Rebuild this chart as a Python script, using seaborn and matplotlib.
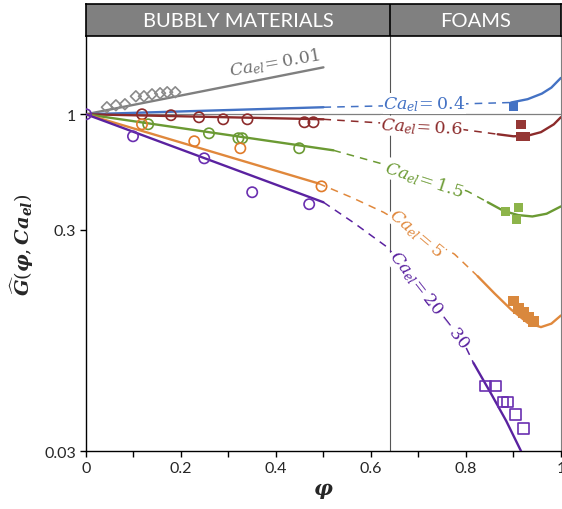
import numpy as np
import pandas as pd
import seaborn as sns
import matplotlib.pyplot as plt

# ---------------- data ----------------
# Ca_el = 0.01 (diamonds + line)
d001_x = [0.044, 0.063, 0.082, 0.105, 0.122, 0.139, 0.156, 0.171, 0.188]
d001_y = [1.076, 1.098, 1.110, 1.206, 1.206, 1.231, 1.245, 1.258, 1.258]
l001_x = [0.0, 0.50]
l001_y = [1.0, 1.63]

# Ca_el = 0.4
l04_x = [0.0, 0.50]
l04_y = [1.0, 1.076]
dash04_x = [0.50, 0.70, 0.895]
dash04_y = [1.076, 1.10, 1.13]
foam04_x = [0.895, 0.93, 0.96, 0.98, 1.0]
foam04_y = [1.13, 1.17, 1.24, 1.32, 1.46]
sq04_x = [0.90]
sq04_y = [1.087]

# Ca_el = 0.6
c06_x = [0.118, 0.179, 0.238, 0.289, 0.340, 0.460, 0.479]
c06_y = [1.0, 0.99, 0.969, 0.949, 0.949, 0.92, 0.92]
l06_x = [0.0, 0.50]
l06_y = [1.0, 0.949]
dash06_x = [0.50, 0.65, 0.79, 0.867]
dash06_y = [0.949, 0.905, 0.855, 0.812]
foam06_x = [0.867, 0.90, 0.93, 0.958, 0.985, 1.0]
foam06_y = [0.812, 0.795, 0.80, 0.83, 0.90, 0.97]
sq06_x = [0.916, 0.916, 0.926]
sq06_y = [0.901, 0.795, 0.795]

# Ca_el = 1.5
c15_x = [0.131, 0.259, 0.321, 0.329, 0.449]
c15_y = [0.901, 0.820, 0.779, 0.779, 0.702]
l15_x = [0.0, 0.521]
l15_y = [1.0, 0.687]
dash15_x = [0.521, 0.627, 0.72, 0.804, 0.846]
dash15_y = [0.687, 0.594, 0.52, 0.448, 0.400]
foam15_x = [0.846, 0.88, 0.91, 0.94, 0.97, 1.0]
foam15_y = [0.400, 0.365, 0.35, 0.345, 0.355, 0.383]
sq15_x = [0.884, 0.911, 0.907]
sq15_y = [0.364, 0.379, 0.335]

# Ca_el = 5
c5_x = [0.118, 0.228, 0.325, 0.496]
c5_y = [0.901, 0.755, 0.702, 0.472]
l5_x = [0.0, 0.489]
l5_y = [1.0, 0.487]
dash5_x = [0.489, 0.56, 0.627, 0.70, 0.776, 0.825]
dash5_y = [0.487, 0.42, 0.360, 0.29, 0.233, 0.185]
foam5_x = [0.825, 0.86, 0.895, 0.93, 0.958, 0.98, 1.0]
foam5_y = [0.185, 0.155, 0.131, 0.114, 0.109, 0.113, 0.123]
sq5_x = [0.901, 0.911, 0.922, 0.932, 0.943]
sq5_y = [0.143, 0.132, 0.127, 0.121, 0.116]

# Ca_el = 20 - 30
c20_x = [0.0, 0.099, 0.249, 0.350, 0.470]
c20_y = [1.0, 0.795, 0.632, 0.444, 0.392]
l20_x = [0.0, 0.50]
l20_y = [1.0, 0.400]
dash20_x = [0.50, 0.563, 0.635, 0.72, 0.795, 0.816]
dash20_y = [0.400, 0.324, 0.250, 0.15, 0.093, 0.075]
foam20_x = [0.816, 0.852, 0.885, 0.916]
foam20_y = [0.075, 0.055, 0.041, 0.030]
sq20_x = [0.842, 0.863, 0.878, 0.888, 0.905, 0.922]
sq20_y = [0.059, 0.059, 0.050, 0.050, 0.044, 0.038]

# label text, position, rotation
labels = ['0.01', '0.4', '0.6', '1.5', '5', '20 - 30']
label_x = [0.398, 0.713, 0.707, 0.711, 0.696, 0.722]
label_y = [1.72, 1.121, 0.873, 0.508, 0.292, 0.145]
label_rot = [10, 0, -3, -18, -40, -52]

grey = '#7f7f7f'
blue = '#4472c4'
red = '#8c2b2b'
green = '#6b9a33'
orange = '#e0883c'
purple = '#5a22a0'
label_col = ['#707070', blue, red, green, orange, purple]

# ---------------- style ----------------
sns.set_theme(style='white')
plt.rcParams['font.family'] = ['Lato', 'DejaVu Sans']
plt.rcParams['mathtext.fontset'] = 'custom'
plt.rcParams['mathtext.rm'] = 'DejaVu Serif'
plt.rcParams['mathtext.it'] = 'DejaVu Serif:italic'
plt.rcParams['mathtext.bf'] = 'DejaVu Serif:italic:bold'

fig = plt.figure(figsize=(5.62, 5.10), dpi=100)
ax = fig.add_axes([0.153, 0.1137, 0.845, 0.813])
hax = fig.add_axes([0.153, 0.927, 0.845, 0.063])


def line(x, y, color, dashed=False):
    df = pd.DataFrame({'x': x, 'y': y})
    sns.lineplot(data=df, x='x', y='y', ax=ax, color=color,
                 lw=1.1 if dashed else 1.7, ls=(0, (5, 4)) if dashed else '-',
                 sort=False, estimator=None, zorder=3)


def points(x, y, color, marker, filled, s):
    df = pd.DataFrame({'x': x, 'y': y})
    if filled:
        sns.scatterplot(data=df, x='x', y='y', ax=ax, color=color, marker=marker,
                        s=s, edgecolor='none', zorder=4)
    else:
        sns.scatterplot(data=df, x='x', y='y', ax=ax, marker=marker, s=s,
                        facecolor='none', edgecolor=color, linewidth=1.2, zorder=4)


ax.set_yscale('log')
ax.axhline(1, color=grey, lw=0.9, zorder=1)
ax.axvline(0.64, color='#555555', lw=0.8, zorder=1)

# Ca 0.01
line(l001_x, l001_y, grey)
points(d001_x, d001_y, '#8a8a8a', 'D', False, 30)
# Ca 0.4
line(l04_x, l04_y, blue)
line(dash04_x, dash04_y, blue, dashed=True)
line(foam04_x, foam04_y, blue)
points(sq04_x, sq04_y, blue, 's', True, 45)
# Ca 0.6
line(l06_x, l06_y, red)
line(dash06_x, dash06_y, red, dashed=True)
line(foam06_x, foam06_y, red)
points(c06_x, c06_y, red, 'o', False, 55)
points(sq06_x, sq06_y, '#953735', 's', True, 45)
# Ca 1.5
line(l15_x, l15_y, green)
line(dash15_x, dash15_y, green, dashed=True)
line(foam15_x, foam15_y, green)
points(c15_x, c15_y, green, 'o', False, 55)
points(sq15_x, sq15_y, '#8db44a', 's', True, 45)
# Ca 5
line(l5_x, l5_y, orange)
line(dash5_x, dash5_y, orange, dashed=True)
line(foam5_x, foam5_y, orange)
points(c5_x, c5_y, '#e07b2a', 'o', False, 55)
points(sq5_x, sq5_y, '#d9883d', 's', True, 60)
# Ca 20-30
line(l20_x, l20_y, purple)
line(dash20_x, dash20_y, purple, dashed=True)
line(foam20_x, foam20_y, purple)
points(c20_x, c20_y, '#6a2fb0', 'o', False, 55)
points(sq20_x, sq20_y, '#6a2fb0', 's', False, 60)

for i, (t, x, y, r, c) in enumerate(zip(labels, label_x, label_y, label_rot, label_col)):
    box = None if i == 0 else dict(facecolor='white', edgecolor='none', pad=0.5)
    ax.text(x, y, r'$\mathit{Ca}_{\mathit{el}}\!=' + t + '$', color=c, fontsize=12.5,
            rotation=r, ha='center', va='center', rotation_mode='anchor', zorder=5,
            bbox=box)

ax.set_xlim(0, 1)
ax.set_ylim(0.03, 2.25)
ax.set_xticks([0, 0.2, 0.4, 0.6, 0.8, 1.0])
ax.set_xticklabels(['0', '0.2', '0.4', '0.6', '0.8', '1'])
ax.set_xticks(np.arange(0.1, 1.0, 0.2), minor=True)
ax.set_yticks([0.03, 0.3, 1])
ax.set_yticklabels(['0.03', '0.3', '1'])
ax.yaxis.set_minor_locator(plt.NullLocator())
ax.tick_params(axis='both', which='both', direction='out', length=4, width=1,
               color='black', labelsize=11.5, pad=3, bottom=True, left=True)
for side in ['left', 'bottom']:
    ax.spines[side].set_color('black')
    ax.spines[side].set_linewidth(1.0)
ax.spines['right'].set_color(grey)
ax.spines['right'].set_linewidth(0.8)
ax.spines['top'].set_visible(False)
ax.set_xlabel(r'$\mathbf{\varphi}$', fontsize=15, labelpad=4)
ax.set_ylabel(r'$\widehat{\mathbf{G}}(\mathbf{\varphi}, \mathbf{Ca}_{\mathbf{el}})$',
              fontsize=14, labelpad=6)

# header band
hax.set_facecolor('#808080')
hax.set_xlim(0, 1)
hax.set_ylim(0, 1)
hax.set_xticks([])
hax.set_yticks([])
for sp in hax.spines.values():
    sp.set_color('black')
    sp.set_linewidth(1.2)
hax.axvline(0.64, color='black', lw=1.2)
hax.text(0.32, 0.48, 'BUBBLY MATERIALS', color='white', fontsize=14.5,
         ha='center', va='center')
hax.text(0.82, 0.48, 'FOAMS', color='white', fontsize=14.5, ha='center', va='center')

fig.savefig('out.png', dpi=100)
